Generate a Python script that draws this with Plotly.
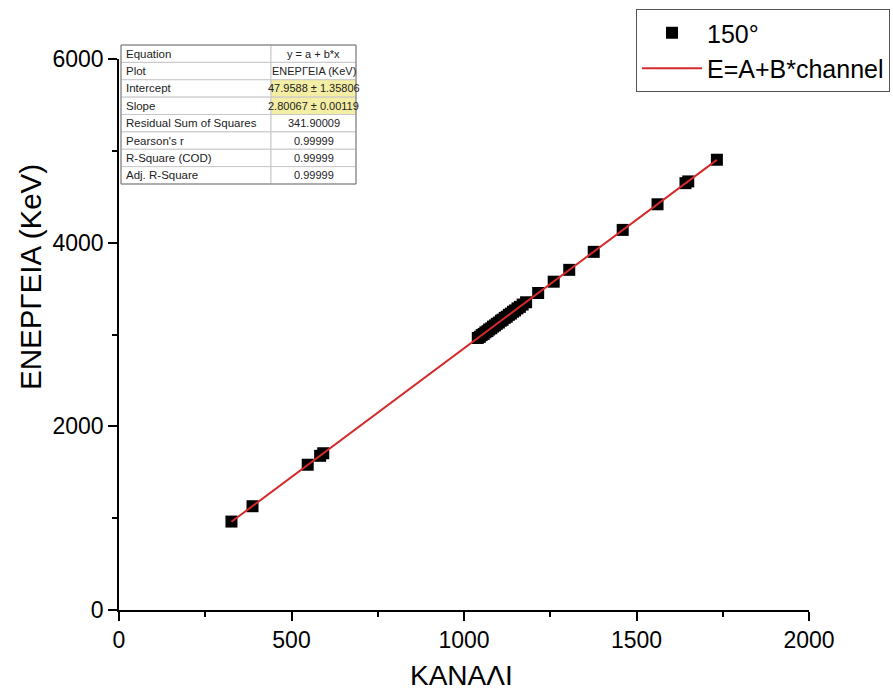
import plotly.graph_objects as go

# ---------------- data ----------------
channel = [326, 387, 547, 583, 592,
           1040, 1046, 1051, 1057, 1062, 1068, 1073, 1079, 1084, 1090, 1095, 1101,
           1107, 1112, 1118, 1124, 1130, 1136, 1142, 1148, 1155, 1162, 1170, 1180,
           1215, 1260, 1305, 1376, 1460, 1561, 1642, 1650, 1733]
energy = [963, 1130, 1582, 1679, 1707,
          2962, 2975, 2993, 3006, 3024, 3037, 3055, 3068, 3086, 3099, 3116, 3130,
          3150, 3161, 3181, 3194, 3214, 3228, 3248, 3262, 3284, 3301, 3326, 3351,
          3452, 3575, 3704, 3900, 4139, 4418, 4648, 4667, 4903]

intercept_A = 47.9588
slope_B = 2.80067

x_ticks = [0, 500, 1000, 1500, 2000]
y_ticks = [0, 2000, 4000, 6000]

table_labels = ["Equation", "Plot", "Intercept", "Slope", "Residual Sum of Squares",
                "Pearson's r", "R-Square (COD)", "Adj. R-Square"]
table_values = ["y = a + b*x", "ΕΝΕΡΓΕΙΑ (KeV)", "47.9588 ± 1.35806", "2.80067 ± 0.00119",
                "341.90009", "0.99999", "0.99999", "0.99999"]
highlight_rows = [2, 3]

# ---------------- figure ----------------
W, H = 893, 698
ML, MR, MT, MB = 119, 84, 59, 88
PW, PH = W - ML - MR, H - MT - MB

fit_x = [min(channel), max(channel)]
fit_y = [intercept_A + slope_B * v for v in fit_x]

fig = go.Figure()
fig.add_trace(go.Scatter(
    x=channel, y=energy, mode="markers", name="150°",
    marker=dict(symbol="square", size=12, color="black", line=dict(width=0)),
))
fig.add_trace(go.Scatter(
    x=fit_x, y=fit_y, mode="lines", name="E=A+B*channel",
    line=dict(color="#d42a2a", width=2),
))

font_family = "Liberation Sans, Arial, sans-serif"


def px(xp):
    return (xp - ML) / PW


def py(yp):
    return (H - MB - yp) / PH


fig.update_layout(
    width=W, height=H,
    margin=dict(l=ML, r=MR, t=MT, b=MB, pad=0, autoexpand=False),
    paper_bgcolor="white", plot_bgcolor="white",
    font=dict(family=font_family, color="black", size=23),
    showlegend=True,
    legend=dict(
        x=px(636), y=py(9), xanchor="left", yanchor="top",
        bordercolor="#555", borderwidth=1, bgcolor="white",
        font=dict(size=25, family=font_family),
        itemwidth=60, tracegroupgap=0,
    ),
)

fig.update_xaxes(
    range=[0, 2000], tickvals=x_ticks, ticktext=[str(v) for v in x_ticks],
    showgrid=False, zeroline=False, showline=True, linecolor="black", linewidth=1.5,
    ticks="outside", ticklen=9, tickwidth=1.5, tickcolor="black",
    tickfont=dict(size=23), automargin=False,
    minor=dict(dtick=250, tick0=0, ticks="outside", ticklen=5, tickwidth=1.5, tickcolor="black"),
)
fig.update_yaxes(
    range=[0, 6000], tickvals=y_ticks, ticktext=[str(v) for v in y_ticks],
    showgrid=False, zeroline=False, showline=True, linecolor="black", linewidth=1.5,
    ticks="outside", ticklen=9, tickwidth=1.5, tickcolor="black",
    tickfont=dict(size=23), automargin=False,
    minor=dict(dtick=1000, tick0=0, ticks="outside", ticklen=5, tickwidth=1.5, tickcolor="black"),
)

# axis titles (placed as in the reference: y title sits above axis centre)
fig.add_annotation(xref="paper", yref="paper", x=px(461), y=py(675),
                   xanchor="center", yanchor="middle", showarrow=False,
                   text="ΚΑΝΑΛΙ", font=dict(size=28, family=font_family, color="black"))
fig.add_annotation(xref="paper", yref="paper", x=px(30), y=py(277),
                   xanchor="center", yanchor="middle", showarrow=False, textangle=-90,
                   text="ΕΝΕΡΓΕΙΑ (KeV)", font=dict(size=29.5, family=font_family, color="black"))

# ---------------- fit-result table ----------------
tx0, tx1, tx2 = 121, 271, 356
ty0, ty1 = 45, 184
n = len(table_labels)
rh = (ty1 - ty0) / n

shapes = []
for i in range(n):
    y_top = ty0 + i * rh
    y_bot = y_top + rh
    fill = "#f4eea4" if i in highlight_rows else "white"
    shapes.append(dict(type="rect", xref="paper", yref="paper",
                       x0=px(tx0), x1=px(tx1), y0=py(y_bot), y1=py(y_top),
                       fillcolor="white", line=dict(color="#c8c8c8", width=1), layer="above"))
    shapes.append(dict(type="rect", xref="paper", yref="paper",
                       x0=px(tx1), x1=px(tx2), y0=py(y_bot), y1=py(y_top),
                       fillcolor=fill, line=dict(color="#c8c8c8", width=1), layer="above"))
shapes.append(dict(type="rect", xref="paper", yref="paper",
                   x0=px(tx0), x1=px(tx2), y0=py(ty1), y1=py(ty0),
                   fillcolor="rgba(0,0,0,0)", line=dict(color="#777", width=1), layer="above"))
fig.update_layout(shapes=shapes)

for i in range(n):
    yc = ty0 + (i + 0.5) * rh
    fig.add_annotation(xref="paper", yref="paper", x=px(tx0 + 3), y=py(yc),
                       xanchor="left", yanchor="middle", showarrow=False,
                       text=table_labels[i], font=dict(size=11.5, color="#222", family=font_family))
    fig.add_annotation(xref="paper", yref="paper", x=px((tx1 + tx2) / 2), y=py(yc),
                       xanchor="center", yanchor="middle", showarrow=False,
                       text=table_values[i], font=dict(size=11, color="#222", family=font_family))

fig.write_html("out.html")
